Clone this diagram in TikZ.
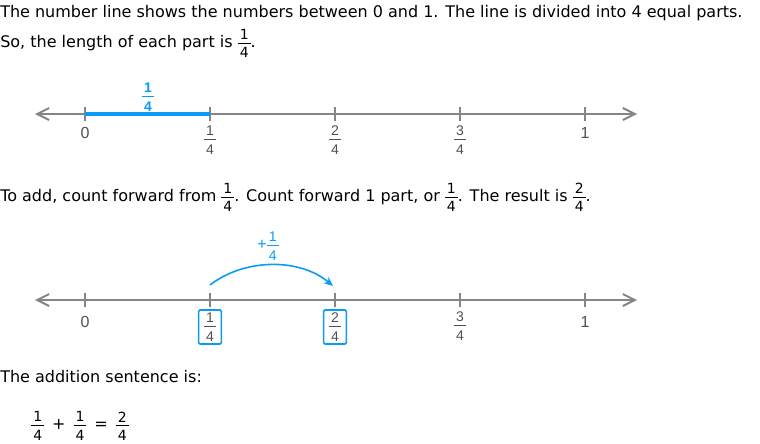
\documentclass[tikz,border=0pt]{standalone}
\usepackage{fontspec}
\setmainfont{DejaVu Sans}
\newfontfamily\numfont{Liberation Sans}
\usetikzlibrary{arrows.meta,positioning}
\definecolor{hopblue}{HTML}{0A9BF5}
\definecolor{linegray}{HTML}{858585}
\definecolor{labelgray}{HTML}{505050}
% small stacked fraction, text digits
\newcommand{\fr}[2]{{\fontsize{10.5}{10.5}\selectfont\renewcommand{\arraystretch}{0}%
  \begin{tabular}{@{\hspace{1.5pt}}c@{\hspace{1.5pt}}}\rule[-2.6pt]{0pt}{9pt}#1\\\hline\rule{0pt}{10.8pt}#2\end{tabular}}}
\tikzset{
  bodytext/.style={anchor=base west, inner sep=0pt, font=\fontsize{12}{14}\selectfont},
  numline/.style={{Straight Barb[length=9pt,width=9pt]}-{Straight Barb[length=9pt,width=9pt]}, linegray, line width=1.5pt},
  tickmark/.style={linegray, line width=1.2pt},
  numlabel/.style={inner sep=0pt, text=labelgray, font=\numfont\fontsize{12}{14}\selectfont},
  fraclabel/.style={inner sep=0pt, text=labelgray, font=\numfont\fontsize{12}{14}\selectfont},
  bluepart/.style={hopblue, line width=3pt},
  partlabel/.style={inner sep=0pt, text=hopblue, font=\bfseries\numfont\fontsize{12}{14}\selectfont},
  hoparrow/.style={-{Stealth[length=7pt,width=6pt]}, hopblue, line width=1.2pt},
  hoplabel/.style={inner sep=0pt, text=hopblue, font=\numfont\fontsize{12}{14}\selectfont},
  answerbox/.style={draw=hopblue, line width=1.2pt, rounded corners=1pt, minimum width=17pt, minimum height=25.5pt, inner sep=0pt, text=labelgray, font=\numfont\fontsize{12}{14}\selectfont}
}

\begin{document}
\begin{tikzpicture}[x=0.75pt, y=-0.75pt]
  \useasboundingbox (0,0) rectangle (760,443);
  % text at the top
  \node[bodytext] (intro) at (0,17) {The number line shows the numbers between 0 and 1. The line is divided into 4 equal parts.};
  \node[bodytext] (partlen) at (0,47) {So, the length of each part is \fr{1}{4}.};

  % first number line
  \coordinate (la) at (35,114);
  \coordinate (ra) at (637,114);
  \draw[numline] (la) -- (ra);
  \foreach \i in {0,...,4} {
    \coordinate (ta\i) at (85+125*\i,114);
    \draw[tickmark] ([yshift=-5.6pt]ta\i) -- ([yshift=5.6pt]ta\i);
  }
  \node[numlabel] (za) at (85,133) {0};
  \node[fraclabel] (qa1) at (210,140) {\fr{1}{4}};
  \node[fraclabel] (qa2) at (335,140) {\fr{2}{4}};
  \node[fraclabel] (qa3) at (460,140) {\fr{3}{4}};
  \node[numlabel] (oa) at (585,133) {1};
  \draw[bluepart] (ta0) -- (ta1);
  \node[partlabel] (partval) at (148,97) {\fr{1}{4}};

  \node[bodytext] (toadd) at (0,201) {To add, count forward from \fr{1}{4}. Count forward 1 part, or \fr{1}{4}. The result is \fr{2}{4}.};

  % second number line
  \coordinate (lb) at (35,300);
  \coordinate (rb) at (637,300);
  \draw[numline] (lb) -- (rb);
  \foreach \i in {0,...,4} {
    \coordinate (tb\i) at (85+125*\i,300);
    \draw[tickmark] ([yshift=-5.6pt]tb\i) -- ([yshift=5.6pt]tb\i);
  }
  \node[numlabel] (zb) at (85,322) {0};
  \node[answerbox] (start) at (210,327) {\fr{1}{4}};
  \node[answerbox] (result) at (335,327) {\fr{2}{4}};
  \node[fraclabel] (qb3) at (460,326) {\fr{3}{4}};
  \node[numlabel] (ob) at (585,322) {1};
  \coordinate (hopfrom) at (210,285);
  \coordinate (hopto) at (333,286);
  \draw[hoparrow] (hopfrom) .. controls (245,258) and (300,258) .. (hopto);
  \node[hoplabel] (hopval) at (268,246) {+\fr{1}{4}};

  \node[bodytext] (sentence) at (0,382) {The addition sentence is:};
  \node[bodytext, anchor=west] (equation) at (31,426) {\fr{1}{4}\enspace+\enspace\fr{1}{4}\enspace=\enspace\fr{2}{4}};
\end{tikzpicture}
\end{document}
